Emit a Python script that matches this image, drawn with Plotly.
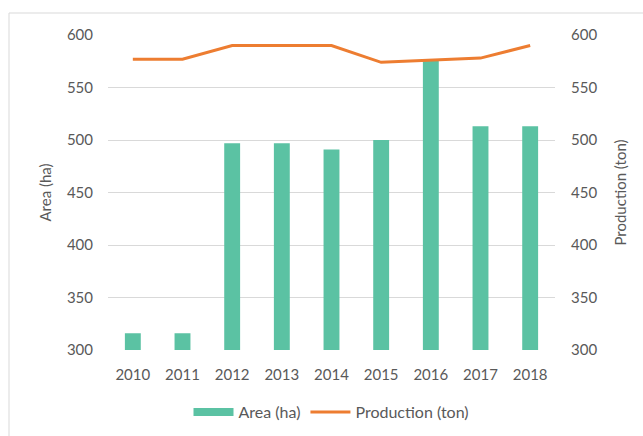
import plotly.graph_objects as go

years = ["2010", "2011", "2012", "2013", "2014", "2015", "2016", "2017", "2018"]
area_ha = [316, 316, 497, 497, 491, 500, 576, 513, 513]
production_ton = [577, 577, 590, 590, 590, 574, 576, 578, 590]

font_family = "Lato, 'Open Sans', sans-serif"
text_color = "#595959"
teal = "#5BC2A3"
orange = "#ED7D31"

fig = go.Figure()
fig.add_trace(go.Bar(
    x=years, y=area_ha, name="Area (ha)",
    marker=dict(color=teal, line=dict(width=0)),
    width=0.32, yaxis="y", showlegend=False,
))
# legend entry drawn as a wide swatch like Excel
fig.add_trace(go.Scatter(
    x=[None], y=[None], name="Area (ha)", mode="lines",
    line=dict(color=teal, width=8), yaxis="y",
))
fig.add_trace(go.Scatter(
    x=years, y=production_ton, name="Production (ton)",
    mode="lines", line=dict(color=orange, width=3),
    yaxis="y2",
))

fig.update_layout(
    width=643, height=436,
    margin=dict(l=108, r=88, t=35, b=86, autoexpand=False),
    paper_bgcolor="white", plot_bgcolor="white",
    font=dict(family=font_family, size=15, color=text_color),
    showlegend=True,
    legend=dict(orientation="h", x=0.5, xanchor="center",
                yref="container", y=1 - 412 / 436, yanchor="middle",
                font=dict(size=16, color=text_color), itemwidth=40),
    xaxis=dict(type="category", showgrid=False, zeroline=False, showline=False,
               ticks="", ticklabelstandoff=14, tickfont=dict(size=15, color=text_color)),
    yaxis=dict(range=[300, 600], dtick=50, showgrid=True, gridcolor="#D9D9D9",
               gridwidth=1, zeroline=False, showline=False, ticks="",
               ticklabelstandoff=14,
               title=dict(text="Area (ha)", font=dict(size=15, color=text_color), standoff=11),
               tickfont=dict(size=15, color=text_color)),
    yaxis2=dict(range=[300, 600], dtick=50, overlaying="y", side="right",
                showgrid=False, zeroline=False, showline=False, ticks="",
                ticklabelstandoff=15,
                title=dict(text="Production (ton)", font=dict(size=15, color=text_color), standoff=19),
                tickfont=dict(size=15, color=text_color)),
    shapes=[dict(type="rect", xref="paper", yref="paper",
                 x0=(9 - 108) / 447, x1=1.3, y0=-0.4, y1=1 + 22 / 315,
                 line=dict(color="#D9D9D9", width=1), fillcolor="rgba(0,0,0,0)", layer="below")],
)

fig.write_html("out.html")
